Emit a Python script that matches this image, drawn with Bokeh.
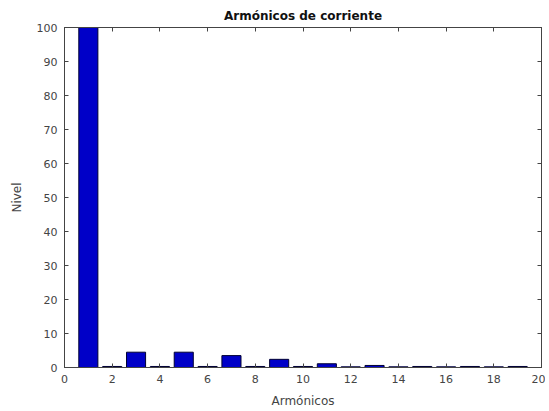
from bokeh.plotting import figure
from bokeh.models import LinearAxis, FixedTicker, Range1d
from bokeh.embed import file_html
from bokeh.resources import INLINE

harmonics = list(range(1, 20))
levels = [100, 0.3, 4.5, 0.3, 4.5, 0.3, 3.5, 0.3, 2.4, 0.3, 1.1, 0.2, 0.6, 0.2, 0.3, 0.2, 0.3, 0.2, 0.3]
x_ticks = list(range(0, 21, 2))
y_ticks = list(range(0, 101, 10))

FONT = "DejaVu Sans"

p = figure(width=545, height=410, output_backend="svg", toolbar_location=None,
           x_range=Range1d(0, 20), y_range=Range1d(0, 100),
           title="Armónicos de corriente",
           min_border_left=64, min_border_right=4, min_border_bottom=42, min_border_top=27)

p.vbar(x=harmonics, top=levels, width=0.8, bottom=0,
       fill_color="#0000C8", line_color="#000033", line_width=1)

p.title.align = "center"
p.title.text_font = FONT
p.title.text_font_size = "12px"
p.title.text_font_style = "bold"
p.title.text_color = "#111111"
p.title.standoff = 9

p.xgrid.visible = False
p.ygrid.visible = False
p.outline_line_color = "#444444"
p.outline_line_width = 1

for ax, ticks in ((p.xaxis[0], x_ticks), (p.yaxis[0], y_ticks)):
    ax.ticker = FixedTicker(ticks=ticks)
    ax.major_tick_in = 4
    ax.major_tick_out = 0
    ax.minor_tick_line_color = None
    ax.axis_line_color = "#444444"
    ax.major_tick_line_color = "#444444"
    ax.major_label_text_font = FONT
    ax.major_label_text_font_size = "11px"
    ax.major_label_text_color = "#444444"
    ax.axis_label_text_font = FONT
    ax.axis_label_text_font_size = "12px"
    ax.axis_label_text_font_style = "normal"
    ax.axis_label_text_color = "#444444"

p.xaxis[0].axis_label = "Armónicos"
p.yaxis[0].axis_label = "Nivel"
p.xaxis[0].major_label_standoff = 7
p.xaxis[0].axis_label_standoff = 8
p.yaxis[0].major_label_standoff = 7
p.yaxis[0].axis_label_standoff = 10

r_ax = LinearAxis(ticker=FixedTicker(ticks=y_ticks),
                  major_label_overrides={t: "" for t in y_ticks},
                  major_tick_in=4, major_tick_out=0, minor_tick_line_color=None,
                  axis_line_color="#444444", major_tick_line_color="#444444",
                  major_label_standoff=0)
t_ax = LinearAxis(ticker=FixedTicker(ticks=x_ticks),
                  major_label_overrides={t: "" for t in x_ticks},
                  major_tick_in=4, major_tick_out=0, minor_tick_line_color=None,
                  axis_line_color="#444444", major_tick_line_color="#444444",
                  major_label_standoff=0)
p.add_layout(r_ax, "right")
p.add_layout(t_ax, "above")

open("out.html", "w").write(file_html(p, INLINE))
